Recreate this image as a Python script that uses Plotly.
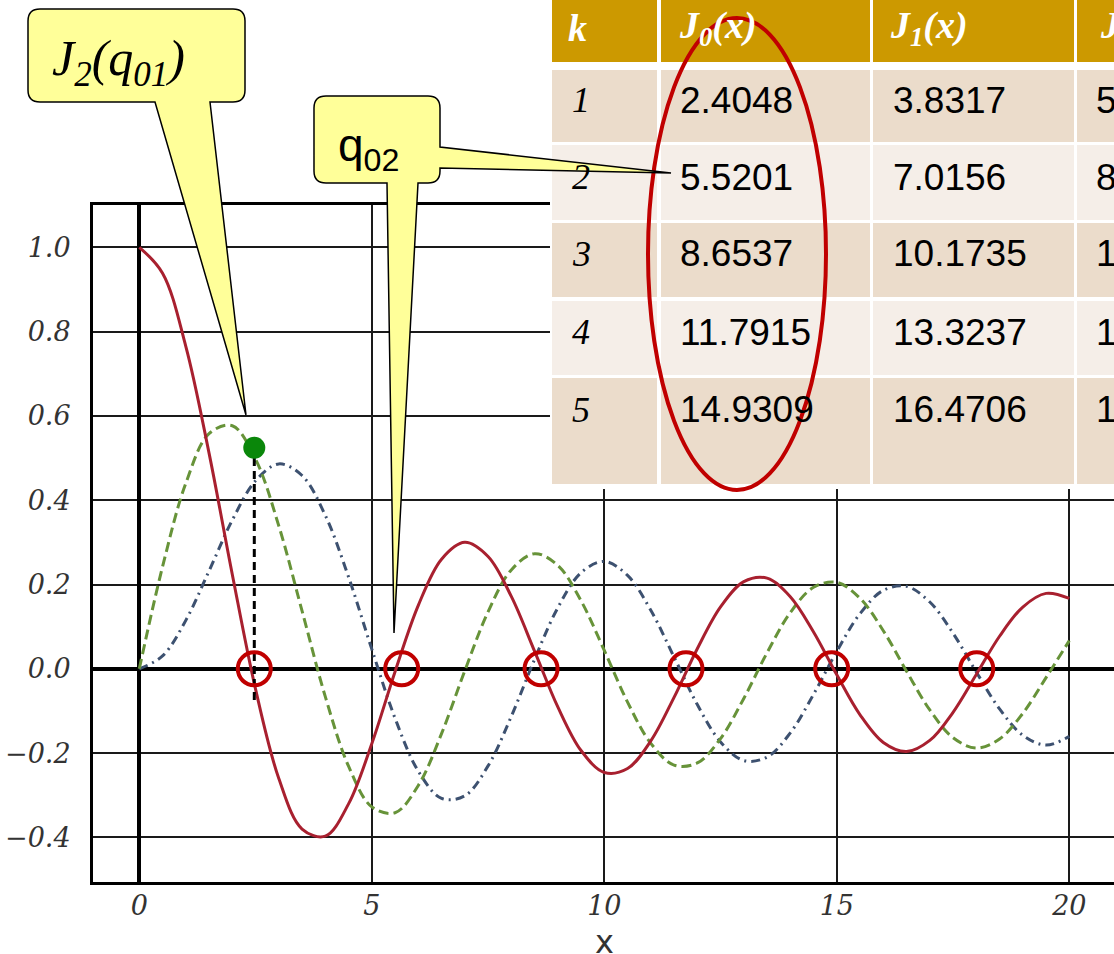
import plotly.graph_objects as go

# ---------------- data ----------------
x_vals = [0.0, 0.5, 1.0, 1.5, 2.0, 2.5, 3.0, 3.5, 4.0, 4.5, 5.0, 5.5, 6.0, 6.5, 7.0, 7.5,
          8.0, 8.5, 9.0, 9.5, 10.0, 10.5, 11.0, 11.5, 12.0, 12.5, 13.0, 13.5, 14.0, 14.5,
          15.0, 15.5, 16.0, 16.5, 17.0, 17.5, 18.0, 18.5, 19.0, 19.5, 20.0]
j0_vals = [1.0, 0.9385, 0.7652, 0.5118, 0.2239, -0.0484, -0.2601, -0.3801, -0.3971, -0.3205,
           -0.1776, -0.0068, 0.1506, 0.2601, 0.3001, 0.2663, 0.1717, 0.0419, -0.0903, -0.1939,
           -0.2459, -0.2366, -0.1712, -0.0677, 0.0477, 0.1469, 0.2069, 0.2151, 0.1711, 0.0873,
           -0.0142, -0.1092, -0.1749, -0.1964, -0.1699, -0.1031, -0.0134, 0.0772, 0.1466, 0.1789,
           0.1670]
j1_vals = [0.0, 0.2423, 0.4401, 0.5579, 0.5767, 0.4971, 0.3391, 0.1374, -0.0660, -0.2311,
           -0.3276, -0.3414, -0.2767, -0.1538, -0.0047, 0.1352, 0.2346, 0.2731, 0.2453, 0.1613,
           0.0435, -0.0789, -0.1768, -0.2284, -0.2234, -0.1655, -0.0703, 0.0380, 0.1334, 0.1934,
           0.2051, 0.1672, 0.0904, -0.0058, -0.0977, -0.1634, -0.1880, -0.1666, -0.1057, -0.0209,
           0.0668]
j2_vals = [0.0, 0.0306, 0.1149, 0.2321, 0.3528, 0.4461, 0.4861, 0.4586, 0.3641, 0.2179,
           0.0466, -0.1173, -0.2429, -0.3074, -0.3014, -0.2303, -0.1130, 0.0223, 0.1448, 0.2279,
           0.2546, 0.2216, 0.1390, 0.0279, -0.0849, -0.1734, -0.2177, -0.2095, -0.1520, -0.0606,
           0.0416, 0.1309, 0.1862, 0.1957, 0.1584, 0.0844, -0.0075, -0.0952, -0.1577, -0.1810,
           -0.1603]

# zero markers (red circles) and the highlighted point
zero_marks_x = [2.473, 5.643, 8.64, 11.757, 14.89, 18.01]
zero_marks_y = [0.0, 0.0, 0.0, 0.0, 0.0, 0.0]
dot_x = [2.473]
dot_y = [0.5246]
drop_x = [2.473, 2.473]
drop_y = [0.50, -0.074]

x_ticks = [0, 5, 10, 15, 20]
x_tick_text = ["0", "5", "10", "15", "20"]
y_ticks = [-0.4, -0.2, 0.0, 0.2, 0.4, 0.6, 0.8, 1.0]

# table
table_header = ["k", "J<sub>0</sub>(x)", "J<sub>1</sub>(x)", "J<sub>2</sub>(x)"]
table_k = ["1", "2", "3", "4", "5"]
table_j0 = ["2.4048", "5.5201", "8.6537", "11.7915", "14.9309"]
table_j1 = ["3.8317", "7.0156", "10.1735", "13.3237", "16.4706"]
table_j2 = ["5.1356", "8.4172", "11.6198", "14.7960", "17.9598"]

callout1_text = "J<sub>2</sub>(q<sub>01</sub>)"
callout2_text = "q<sub>02</sub>"
x_title = "x"

# ---------------- layout geometry (pixels) ----------------
W, H = 1114, 954
ML, MR, MT, MB = 93, 0, 205, 72
PW, PH = W - ML - MR, H - MT - MB


def px(v):
    return (v - ML) / PW


def py(v):
    return (H - MB - v) / PH


def P(xp, yp):
    return f"{px(xp):.5f},{py(yp):.5f}"


def rect(x0, y0, x1, y1, color):
    return dict(type="rect", xref="paper", yref="paper", layer="above",
                x0=px(x0), x1=px(x1), y0=py(y1), y1=py(y0),
                fillcolor=color, line=dict(width=0))


fig = go.Figure()

fig.add_trace(go.Scatter(x=x_vals, y=j2_vals, mode="lines", line_shape="spline",
                         line=dict(color="#3d5170", width=3, dash="9px,5px,2px,5px")))
fig.add_trace(go.Scatter(x=x_vals, y=j1_vals, mode="lines", line_shape="spline",
                         line=dict(color="#679339", width=3, dash="10px,5px")))
fig.add_trace(go.Scatter(x=x_vals, y=j0_vals, mode="lines", line_shape="spline",
                         line=dict(color="#a8202f", width=3)))
fig.add_trace(go.Scatter(x=drop_x, y=drop_y, mode="lines",
                         line=dict(color="black", width=3, dash="8px,5px")))
fig.add_trace(go.Scatter(x=zero_marks_x, y=zero_marks_y, mode="markers",
                         marker=dict(symbol="circle-open", size=33, color="#c00000",
                                     line=dict(color="#c00000", width=4))))
fig.add_trace(go.Scatter(x=dot_x, y=dot_y, mode="markers",
                         marker=dict(size=22, color="#0a870a")))

shapes = []
# table background and cells
shapes.append(rect(550, -5, 1114, 489, "white"))
cols = [(552, 657), (661, 870), (873, 1074), (1077, 1200)]
rows = [(70, 142), (145, 220), (223, 297), (301, 375), (378, 484)]
row_colors = ["#ebdccb", "#f5eee8", "#ebdccb", "#f5eee8", "#ebdccb"]
for c0, c1 in cols:
    shapes.append(rect(c0, -5, c1, 62, "#cc9900"))
    for (r0, r1), rc in zip(rows, row_colors):
        shapes.append(rect(c0, r0, c1, r1, rc))

# red ellipse around J0 column
shapes.append(dict(type="circle", xref="paper", yref="paper", layer="above",
                   x0=px(648), x1=px(826), y0=py(490), y1=py(18),
                   line=dict(color="#c00000", width=4), fillcolor="rgba(0,0,0,0)"))

# callout 1
bx0, by0, bx1, by1, r = 28, 9, 245, 102, 12
path1 = (f"M{P(bx0 + r, by0)} L{P(bx1 - r, by0)} Q{P(bx1, by0)} {P(bx1, by0 + r)} "
         f"L{P(bx1, by1 - r)} Q{P(bx1, by1)} {P(bx1 - r, by1)} "
         f"L{P(210, by1)} L{P(246, 415)} L{P(155, by1)} "
         f"L{P(bx0 + r, by1)} Q{P(bx0, by1)} {P(bx0, by1 - r)} "
         f"L{P(bx0, by0 + r)} Q{P(bx0, by0)} {P(bx0 + r, by0)} Z")
shapes.append(dict(type="path", xref="paper", yref="paper", layer="above", path=path1,
                   fillcolor="#ffff99", line=dict(color="black", width=1.5)))

# callout 2
bx0, by0, bx1, by1, r = 314, 96, 440, 183, 12
path2 = (f"M{P(bx0 + r, by0)} L{P(bx1 - r, by0)} Q{P(bx1, by0)} {P(bx1, by0 + r)} "
         f"L{P(bx1, 147)} L{P(671, 173)} L{P(bx1, 168)} "
         f"L{P(bx1, by1 - r)} Q{P(bx1, by1)} {P(bx1 - r, by1)} "
         f"L{P(418, by1)} L{P(394, 633)} L{P(387, by1)} "
         f"L{P(bx0 + r, by1)} Q{P(bx0, by1)} {P(bx0, by1 - r)} "
         f"L{P(bx0, by0 + r)} Q{P(bx0, by0)} {P(bx0 + r, by0)} Z")
shapes.append(dict(type="path", xref="paper", yref="paper", layer="above", path=path2,
                   fillcolor="#ffff99", line=dict(color="black", width=1.5)))

annotations = []
head_x = [566, 677, 888, 1098]
for hx, txt in zip(head_x, table_header):
    annotations.append(dict(x=px(hx), y=py(28), xref="paper", yref="paper", text=txt,
                            showarrow=False, xanchor="left", yanchor="middle",
                            font=dict(family="Liberation Serif", size=38, color="white",
                                      weight="bold", style="italic")))
row_y = [100, 177.5, 254, 332, 409.5]
for i, ry in enumerate(row_y):
    annotations.append(dict(x=px(570), y=py(ry), xref="paper", yref="paper", text=table_k[i],
                            showarrow=False, xanchor="left", yanchor="middle",
                            font=dict(family="Liberation Serif", size=36, color="black",
                                      style="italic")))
    for cx, col in zip([678, 891, 1094], [table_j0, table_j1, table_j2]):
        annotations.append(dict(x=px(cx), y=py(ry), xref="paper", yref="paper", text=col[i],
                                showarrow=False, xanchor="left", yanchor="middle",
                                font=dict(family="Liberation Sans", size=37, color="black")))

annotations.append(dict(x=px(50), y=py(62), xref="paper", yref="paper", text=callout1_text,
                        showarrow=False, xanchor="left", yanchor="middle",
                        font=dict(family="Liberation Serif", size=50, color="black",
                                  style="italic")))
annotations.append(dict(x=px(336), y=py(148), xref="paper", yref="paper", text=callout2_text,
                        showarrow=False, xanchor="left", yanchor="middle",
                        font=dict(family="Liberation Sans", size=46, color="black")))
annotations.append(dict(x=10, y=py(942), xref="x", yref="paper", text=x_title,
                        showarrow=False, xanchor="center", yanchor="middle",
                        font=dict(family="DejaVu Sans", size=32, color="#333333")))

tickfont = dict(family="DejaVu Serif", size=27, color="#333333", style="italic")
fig.update_layout(
    width=W, height=H,
    margin=dict(l=ML, r=MR, t=MT, b=MB, pad=0),
    paper_bgcolor="white", plot_bgcolor="white", showlegend=False,
    xaxis=dict(range=[(ML - 139.3) / 46.5, (W - MR - 139.3) / 46.5],
               tickvals=x_ticks, ticktext=x_tick_text, ticks="",
               showgrid=True, gridcolor="#1a1a1a", gridwidth=1.8,
               zeroline=True, zerolinecolor="black", zerolinewidth=3.5,
               showline=True, linecolor="black", linewidth=3, mirror=True,
               tickfont=tickfont, ticklabelstandoff=-2),
    yaxis=dict(range=[(668.8 - (H - MB)) / 421.5, (668.8 - MT) / 421.5],
               tickvals=y_ticks, tickformat=".1f", ticks="",
               showgrid=True, gridcolor="#1a1a1a", gridwidth=1.8,
               zeroline=True, zerolinecolor="black", zerolinewidth=3.5,
               showline=True, linecolor="black", linewidth=3,
               tickfont=tickfont, ticklabelstandoff=14),
    shapes=shapes,
    annotations=annotations,
)

fig.write_html("out.html", config={"displayModeBar": False},
               post_script="document.body.style.margin='0px';")
